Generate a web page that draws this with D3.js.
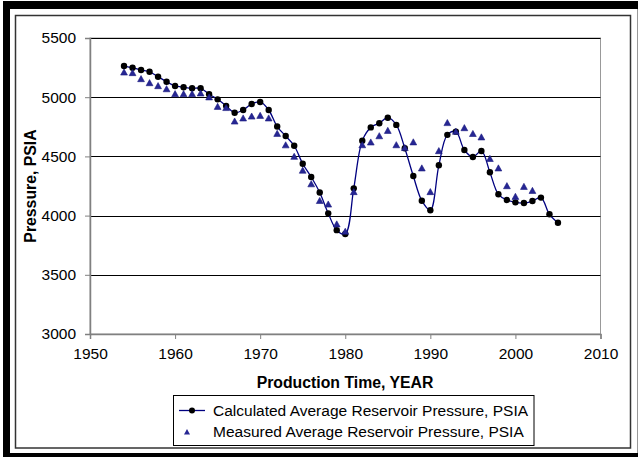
<!DOCTYPE html>
<html>
<head>
<meta charset="utf-8">
<script src="https://cdn.jsdelivr.net/npm/d3@7"></script>
<style>
  html, body { margin: 0; padding: 0; background: #fff; }
  svg { display: block; font-family: Arial, "Liberation Sans", sans-serif; }
</style>
</head>
<body>
<svg id="chart" width="638" height="457"></svg>
<script>
// Calculated average reservoir pressure, one value per year
const calcYears = d3.range(1954, 2006);
const calcPressure = [
  5263, 5249, 5230, 5215, 5173, 5131, 5095, 5084, 5075, 5075,
  5025, 4982, 4927, 4869, 4892, 4943, 4960, 4892, 4752, 4672,
  4590, 4438, 4326, 4195, 4019, 3877, 3845, 4230, 4633, 4745,
  4780, 4827, 4766, 4569, 4334, 4126, 4045, 4425, 4682, 4709,
  4554, 4495, 4546, 4366, 4180, 4132, 4112, 4106, 4123, 4152,
  4011, 3940
];
// Measured average reservoir pressure
const measYears = d3.range(1954, 2003);
const measPressure = [
  5210, 5205, 5154, 5120, 5095, 5069, 5027, 5027, 5027, 5033,
  5000, 4920, 4910, 4796, 4822, 4838, 4844, 4822, 4692, 4595,
  4498, 4381, 4266, 4125, 4095, 3927, 3865, 4200, 4596, 4619,
  4672, 4717, 4596, 4572, 4620, 4400, 4200, 4546, 4783, 4710,
  4740, 4691, 4662, 4480, 4400, 4250, 4160, 4244, 4210
];
const xTicks = [1950, 1960, 1970, 1980, 1990, 2000, 2010];
const yTicks = [3000, 3500, 4000, 4500, 5000, 5500];
const seriesNames = [
  "Calculated Average Reservoir Pressure, PSIA",
  "Measured Average Reservoir Pressure, PSIA"
];

const FS = 15.5;
const svg = d3.select("#chart");

// Outer frame
svg.append("rect").attr("x", 3).attr("y", 1).attr("width", 640).attr("height", 456).attr("fill", "#000");
svg.append("rect").attr("x", 10).attr("y", 9).attr("width", 627).attr("height", 444).attr("fill", "#fff");
svg.append("line").attr("x1", 637.5).attr("x2", 637.5).attr("y1", 9).attr("y2", 453)
  .attr("stroke", "#999").attr("stroke-width", 1);
svg.append("rect").attr("x", 15.5).attr("y", 15.5).attr("width", 615).attr("height", 432.5)
  .attr("fill", "none").attr("stroke", "#333").attr("stroke-width", 1.5);

const x = d3.scaleLinear().domain([1950, 2010]).range([90, 600.5]);
const y = d3.scaleLinear().domain([3000, 5500]).range([334, 38]);

// Plot area border
svg.append("rect").attr("x", 90).attr("y", 38).attr("width", 510.5).attr("height", 296)
  .attr("fill", "none").attr("stroke", "#999").attr("stroke-width", 1);

// Horizontal gridlines
svg.append("g").selectAll("line").data(yTicks.filter(v => v > 3000)).join("line")
  .attr("x1", 90).attr("x2", 600.5)
  .attr("y1", d => Math.round(y(d)) + 0.5).attr("y2", d => Math.round(y(d)) + 0.5)
  .attr("stroke", "#000").attr("stroke-width", 1);

// Axes
const yAxis = svg.append("g").attr("transform", "translate(90,0)")
  .call(d3.axisLeft(y).tickValues(yTicks).tickSize(5).tickPadding(9).tickFormat(d3.format("d")));
const xAxis = svg.append("g").attr("transform", "translate(0,334)")
  .call(d3.axisBottom(x).tickValues(xTicks).tickSize(5).tickPadding(9).tickFormat(d3.format("d")));
[yAxis, xAxis].forEach(a => {
  a.select(".domain").attr("stroke", "#808080").attr("stroke-width", 1.5);
  a.selectAll(".tick line").attr("stroke", "#808080");
  a.selectAll(".tick text").attr("font-size", FS).attr("fill", "#000")
    .attr("font-family", "Arial, 'Liberation Sans', sans-serif");
});

// Axis titles
svg.append("text").attr("x", 345).attr("y", 388).attr("text-anchor", "middle")
  .attr("font-size", FS + 0.3).attr("font-weight", "bold").text("Production Time, YEAR");
svg.append("text").attr("transform", "translate(36,186) rotate(-90)").attr("text-anchor", "middle")
  .attr("font-size", FS + 0.3).attr("font-weight", "bold").text("Pressure, PSIA");

const calc = calcYears.map((yr, i) => ({ yr, v: calcPressure[i] }));
const meas = measYears.map((yr, i) => ({ yr, v: measPressure[i] }));

// Smoothed calculated curve
const line = d3.line().x(d => x(d.yr)).y(d => y(d.v)).curve(d3.curveCatmullRom.alpha(0.5));
svg.append("path").datum(calc).attr("d", line)
  .attr("fill", "none").attr("stroke", "#000080").attr("stroke-width", 1.3);

svg.append("g").selectAll("circle").data(calc).join("circle")
  .attr("cx", d => x(d.yr)).attr("cy", d => y(d.v)).attr("r", 3.2).attr("fill", "#000");

const tri = (cx, cy, s) => `M${cx},${cy - s}L${cx + s},${cy + s * 0.8}L${cx - s},${cy + s * 0.8}Z`;
svg.append("g").selectAll("path").data(meas).join("path")
  .attr("d", d => tri(x(d.yr), y(d.v), 3.4))
  .attr("fill", "#262693").attr("stroke", "#1a1a80").attr("stroke-width", 0.6);

// Legend
const lg = svg.append("g");
lg.append("rect").attr("x", 173.5).attr("y", 395.5).attr("width", 360.5).attr("height", 50)
  .attr("fill", "#fff").attr("stroke", "#000").attr("stroke-width", 1);
lg.append("line").attr("x1", 179).attr("x2", 205).attr("y1", 410.5).attr("y2", 410.5)
  .attr("stroke", "#000080").attr("stroke-width", 1.3);
lg.append("circle").attr("cx", 192).attr("cy", 410.5).attr("r", 3).attr("fill", "#000");
lg.append("path").attr("d", tri(187, 432, 3)).attr("fill", "#262693");
lg.selectAll("text").data(seriesNames).join("text")
  .attr("x", 213).attr("y", (d, i) => 416 + i * 21)
  .attr("font-size", FS).text(d => d);
</script>
</body>
</html>
